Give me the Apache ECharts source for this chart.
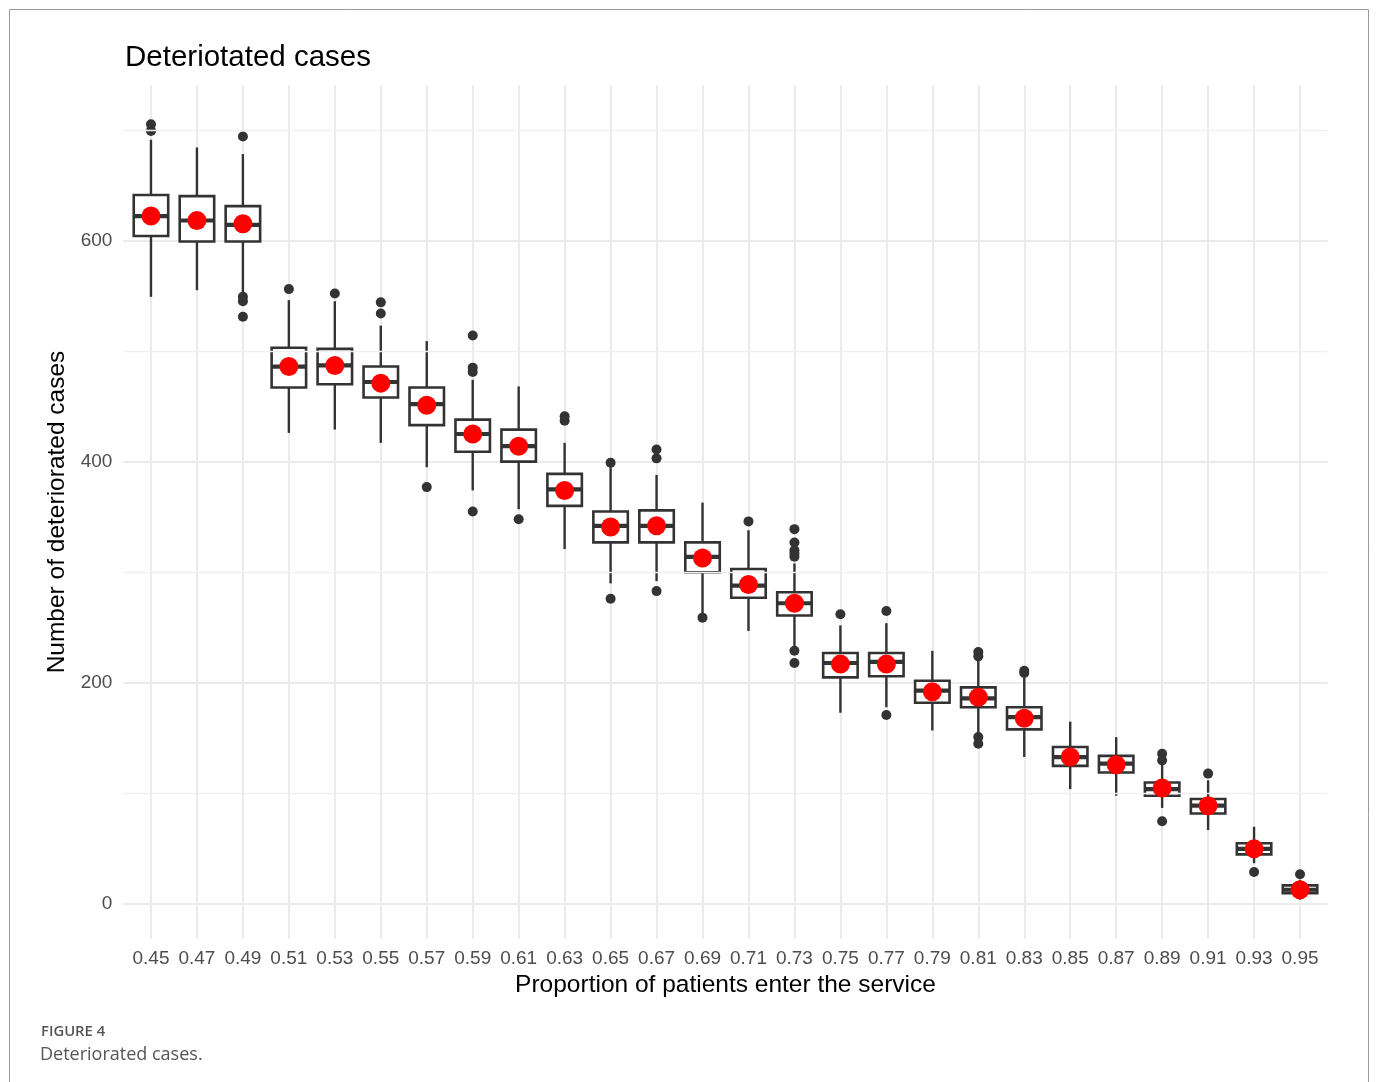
<!DOCTYPE html>
<html><head><meta charset="utf-8">
<script src="https://cdn.jsdelivr.net/npm/echarts@6/dist/echarts.min.js"></script>
<style>html,body{margin:0;padding:0;background:#fff}#c{width:1377px;height:1082px}</style>
</head><body><div id="c"></div>
<script>
const categories = ['0.45','0.47','0.49','0.51','0.53','0.55','0.57','0.59','0.61','0.63','0.65','0.67','0.69','0.71','0.73','0.75','0.77','0.79','0.81','0.83','0.85','0.87','0.89','0.91','0.93','0.95'];
const whiskerLow  = [549,555,553,426,429,417,395,374,357,321,290,292,263,247,233,173,178,157,154,133,104, 98, 87, 67,37, 4];
const q1          = [604,599,599,467,470,458,433,409,400,360,327,327,300,277,261,205,206,182,178,158,125,119, 98, 82,45,10];
const median      = [622,618,614,486,487,472,452,425,414,375,342,342,314,288,272,218,219,193,186,169,133,127,104, 89,50,13];
const q3          = [641,640,631,503,502,486,467,438,429,389,355,356,327,303,282,227,227,202,196,178,142,134,110, 95,55,17];
const whiskerHigh = [691,684,678,546,545,523,509,474,468,417,395,388,363,338,308,252,254,229,220,205,165,151,126,112,70,22];
const means       = [622,618,615,486,487,471,451,425,414,374,341,342,313,289,272,217,217,192,187,168,133,126,105, 89,50,13];
const outliers = [
  [705,699], [], [694,549,545,531], [556], [552], [544,534], [377], [514,485,481,355],
  [348], [441,437], [399,276], [411,403,283], [259], [346], [339,327,320,317,314,229,218],
  [262], [265,171], [], [228,224,151,145], [211,209], [], [], [136,130,75], [118], [29], [27]
];
const yMajorTicks = [0,200,400,600];
const yMinorTicks = [100,300,500,700];

const chart = echarts.init(document.getElementById('c'), null, {renderer:'canvas'});
const idx = categories.map((_, i) => i);
const boxData = categories.map((_, i) => [i, whiskerLow[i], q1[i], median[i], q3[i], whiskerHigh[i]]);
const outlierData = [];
outliers.forEach((arr, i) => arr.forEach(v => outlierData.push([i, v])));
const meanData = means.map((v, i) => [i, v]);

const stroke = '#333333';
function renderBox(params, api) {
  const x = api.value(0);
  const pLow = api.coord([x, api.value(1)]);
  const pQ1 = api.coord([x, api.value(2)]);
  const pMed = api.coord([x, api.value(3)]);
  const pQ3 = api.coord([x, api.value(4)]);
  const pHigh = api.coord([x, api.value(5)]);
  const w = api.size([0.75, 0])[0];
  const cx = pMed[0];
  return {type:'group', children:[
    {type:'line', shape:{x1:cx, y1:pHigh[1], x2:cx, y2:pQ3[1]}, style:{stroke, lineWidth:2.4}},
    {type:'line', shape:{x1:cx, y1:pQ1[1], x2:cx, y2:pLow[1]}, style:{stroke, lineWidth:2.4}},
    {type:'rect', shape:{x:cx - w/2, y:pQ3[1], width:w, height:pQ1[1] - pQ3[1]}, style:{fill:'#ffffff', stroke, lineWidth:2.6}},
    {type:'line', shape:{x1:cx - w/2, y1:pMed[1], x2:cx + w/2, y2:pMed[1]}, style:{stroke, lineWidth:4.2}}
  ]};
}

const font = 'Liberation Sans, Arial, Helvetica, sans-serif';
const option = {
  backgroundColor: '#ffffff',
  animation: false,
  title: {
    text: 'Deteriotated cases', left: 120, top: 38,
    textStyle: {fontFamily: font, fontSize: 29.5, fontWeight: 'normal', color: '#000'}
  },
  grid: {left: 123.4, right: 49.4, top: 85, bottom: 143},
  xAxis: {
    type: 'value', min: -0.6, max: 25.6,
    name: 'Proportion of patients enter the service', nameLocation: 'middle', nameGap: 33,
    nameTextStyle: {fontFamily: font, fontSize: 24.5, color: '#000'},
    axisLine: {show: false},
    axisTick: {show: false, customValues: idx},
    axisLabel: {customValues: idx, formatter: v => categories[Math.round(v)], color: '#4d4d4d', fontSize: 19, fontFamily: font, margin: 10},
    splitLine: {show: true, lineStyle: {color: '#ebebeb', width: 2}}
  },
  yAxis: {
    type: 'value', min: -31.5, max: 740.5,
    name: 'Number of deteriorated cases', nameLocation: 'middle', nameGap: 50,
    nameTextStyle: {fontFamily: font, fontSize: 24.5, color: '#000'},
    axisLine: {show: false},
    axisTick: {show: false, customValues: yMajorTicks},
    axisLabel: {customValues: yMajorTicks, color: '#4d4d4d', fontSize: 19, fontFamily: font, margin: 11},
    splitLine: {show: true, lineStyle: {color: '#ebebeb', width: 2}}
  },
  graphic: [
    {type:'rect', shape:{x:9.5, y:9.5, width:1359, height:1100}, style:{fill:'none', stroke:'#999', lineWidth:1}, silent:true, z:-1},
    {type:'text', left: 41, top: 1024, style:{text:'FIGURE 4', font:'600 14.8px "Open Sans", sans-serif', fill:'#555'}},
    {type:'text', left: 40, top: 1046, style:{text:'Deteriorated cases.', font:'18px "Open Sans", sans-serif', fill:'#555'}}
  ],
  series: [
    {
      type: 'scatter', data: [], silent: true, z: 1,
      markLine: {silent: true, symbol: 'none', label: {show: false},
        lineStyle: {color: '#f0f0f0', width: 1.3, type: 'solid'},
        data: yMinorTicks.map(v => ({yAxis: v}))}
    },
    {type: 'custom', renderItem: renderBox, data: boxData, encode: {x: 0, y: [1,2,3,4,5]}, z: 3, silent: true},
    {type: 'scatter', data: outlierData, symbolSize: 10, itemStyle: {color: stroke, opacity: 1}, z: 4, silent: true},
    {type: 'scatter', data: meanData, symbolSize: 19, itemStyle: {color: '#ff0000', opacity: 1}, z: 5, silent: true}
  ]
};
chart.setOption(option);
</script></body></html>
